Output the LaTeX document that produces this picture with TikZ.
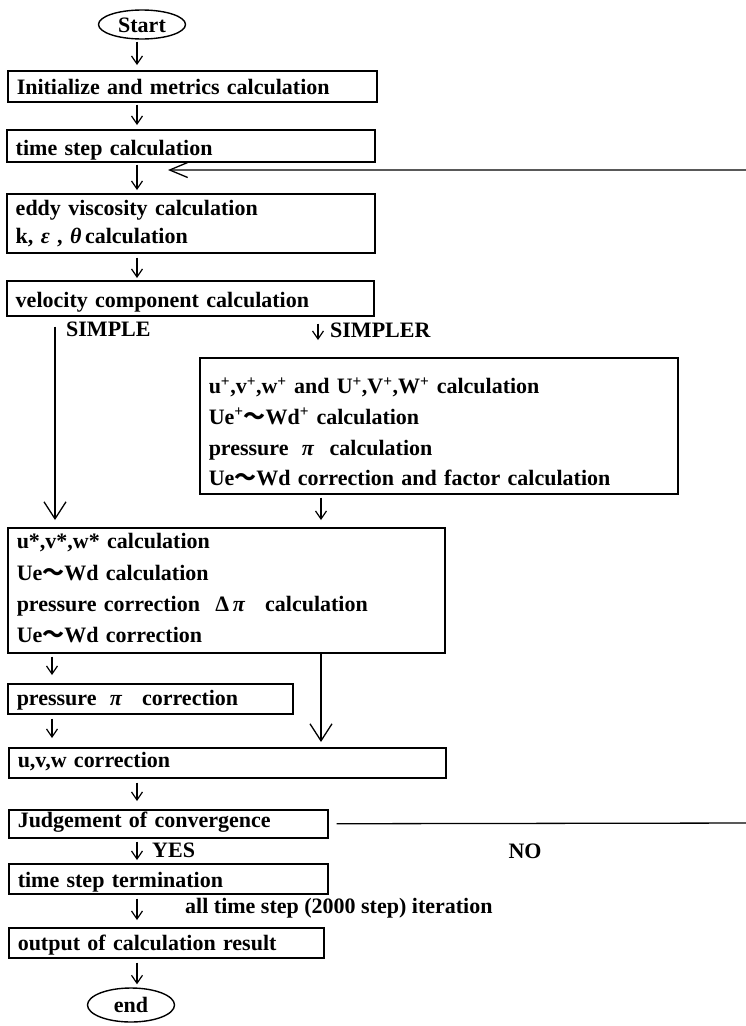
\documentclass[tikz,border=0pt]{standalone}
\usepackage{fontspec}
\setmainfont{Liberation Serif}
\newfontfamily\cjkfont{Noto Sans CJK JP}
\newcommand\wv{{\cjkfont ～}}
\newcommand\sps{\textsuperscript{+}}
\usetikzlibrary{arrows.meta,shapes.geometric}
\begin{document}
\begin{tikzpicture}[x=1pt,y=-1pt,
  every node/.style={font=\fontsize{22}{31}\selectfont\bfseries, inner sep=0pt},
  box/.style={draw, line width=1.5pt, rectangle, anchor=north west, inner xsep=9pt, inner ysep=0pt, align=left, text depth=0pt},
  oval/.style={draw, line width=1.4pt, ellipse, inner sep=0pt, text height=15pt, text depth=0pt},
  lab/.style={anchor=base west},
  sarrow/.style={line width=1.2pt, -{Straight Barb[length=8pt,width=11pt,line width=1.2pt]}},
  barrow/.style={line width=1.3pt, -{Straight Barb[length=17pt,width=22pt,line width=1.3pt]}},
  fbarrow/.style={line width=1.3pt, -{Straight Barb[length=18pt,width=15pt,line width=1.3pt]}},
]
\useasboundingbox (0,0) rectangle (746,1026);

% columns
\coordinate (cA) at (137,0);
\coordinate (cL) at (55,0);
\coordinate (cP) at (52,0);
\coordinate (cS) at (318,0);
\coordinate (cR) at (321,0);

% terminals
\node[oval, minimum width=87pt, minimum height=29pt] (start) at (142,24.5) {Start};
\node[oval, minimum width=87pt, minimum height=34pt] (end) at (131,1005) {end};

% boxes
\node[box, minimum width=369pt, minimum height=31pt, text width=351pt, text height=17pt] (init) at (7,70) {Initialize and metrics calculation};
\node[box, minimum width=368pt, minimum height=32pt, text width=350pt, text height=19pt] (ts) at (6,129) {time step calculation};
\node[box, minimum width=368pt, minimum height=59pt, text width=350pt, text height=5pt, text depth=20pt,
      font=\fontsize{22}{28}\selectfont\bfseries] (eddy) at (6,193)
  {\begin{tabular}[t]{@{}l@{}}eddy viscosity calculation\\ k, \textit{ε} , \textit{θ}\,calculation\end{tabular}};
\node[box, minimum width=367pt, minimum height=35pt, text width=349pt, text height=19pt] (vel) at (6,280) {velocity component calculation};
\node[box, minimum width=478pt, minimum height=136pt, text width=460pt, text height=0pt, text depth=64pt,
      font=\fontsize{22}{30.7}\selectfont\bfseries] (simpler) at (199,357)
  {\begin{tabular}[t]{@{}l@{}}u\sps,v\sps,w\sps{} and U\sps,V\sps,W\sps{} calculation\\
   Ue\sps\wv Wd\sps{} calculation\\
   pressure\hspace{0.6em}\textit{π}\hspace{0.7em}calculation\\
   Ue\wv Wd correction and factor calculation\end{tabular}};
\node[box, minimum width=437pt, minimum height=125pt, text width=419pt, text height=0pt, text depth=83pt,
      font=\fontsize{22}{31.3}\selectfont\bfseries] (ustar) at (7,527)
  {\begin{tabular}[t]{@{}l@{}}u*,v*,w* calculation\\
   Ue\wv Wd calculation\\
   pressure correction\hspace{0.7em}Δ\,\textit{π}\hspace{0.9em}calculation\\
   Ue\wv Wd correction\end{tabular}};
\node[box, minimum width=285pt, minimum height=30pt, text width=267pt, text height=14pt] (pres) at (7,683) {pressure\hspace{0.6em}\textit{π}\hspace{0.9em}correction};
\node[box, minimum width=437pt, minimum height=30pt, text width=419pt, text height=10pt] (uvw) at (8,747) {u,v,w correction};
\node[box, minimum width=319pt, minimum height=28pt, text width=301pt, text height=8pt] (judge) at (8,809) {Judgement of convergence};
\node[box, minimum width=319pt, minimum height=30pt, text width=301pt, text height=18pt] (tst) at (8,863) {time step termination};
\node[box, minimum width=315pt, minimum height=30pt, text width=297pt, text height=16pt] (out) at (8,927) {output of calculation result};

% labels
\node[lab] (simpleL) at (66,336) {SIMPLE};
\node[lab] (simplerL) at (330,337) {SIMPLER};
\node[lab] (yesL) at (152,857) {YES};
\node[anchor=base] (noL) at (525,858) {NO};
\node[lab] (iterL) at (185,913) {all time step (2000 step) iteration};

% connectors
\draw[sarrow, shorten <=2pt, shorten >=5pt] (start.south -| cA) -- (init.north -| cA);
\draw[sarrow, shorten <=2pt, shorten >=4pt] (init.south -| cA) -- (ts.north -| cA);
\draw[sarrow, shorten <=2pt, shorten >=3pt] (ts.south -| cA) -- (eddy.north -| cA);
\draw[sarrow, shorten <=4pt, shorten >=2pt] (eddy.south -| cA) -- (vel.north -| cA);
\draw[sarrow, shorten <=7pt, shorten >=17pt] (vel.south -| cS) -- (simpler.north -| cS);
\draw[barrow, shorten <=10pt, shorten >=7pt] (vel.south -| cL) -- (ustar.north -| cL);
\draw[sarrow, shorten <=3pt, shorten >=7pt] (simpler.south -| cR) -- (ustar.north -| cR);
\draw[barrow, shorten >=5pt] (ustar.south -| cR) -- (uvw.north -| cR);
\draw[sarrow, shorten <=3pt, shorten >=8pt] (ustar.south -| cP) -- (pres.north -| cP);
\draw[sarrow, shorten <=4pt, shorten >=9pt] (pres.south -| cP) -- (uvw.north -| cP);
\draw[sarrow, shorten <=4pt, shorten >=8pt] (uvw.south -| cA) -- (judge.north -| cA);
\draw[sarrow, shorten <=3pt, shorten >=3pt] (judge.south -| cA) -- (tst.north -| cA);
\draw[sarrow, shorten <=4pt, shorten >=7pt] (tst.south -| cA) -- (out.north -| cA);
\draw[sarrow, shorten <=4pt, shorten >=3pt] (out.south -| cA) -- (end.north -| cA);

% feedback loop (NO)
\coordinate (loopB) at (760,823);
\coordinate (loopT) at (760,170);
\coordinate (fbtip) at (168,170);
\draw[fbarrow, shorten <=8pt] (judge.east) -- (loopB) -- (loopT) -- (fbtip);
\end{tikzpicture}
\end{document}
